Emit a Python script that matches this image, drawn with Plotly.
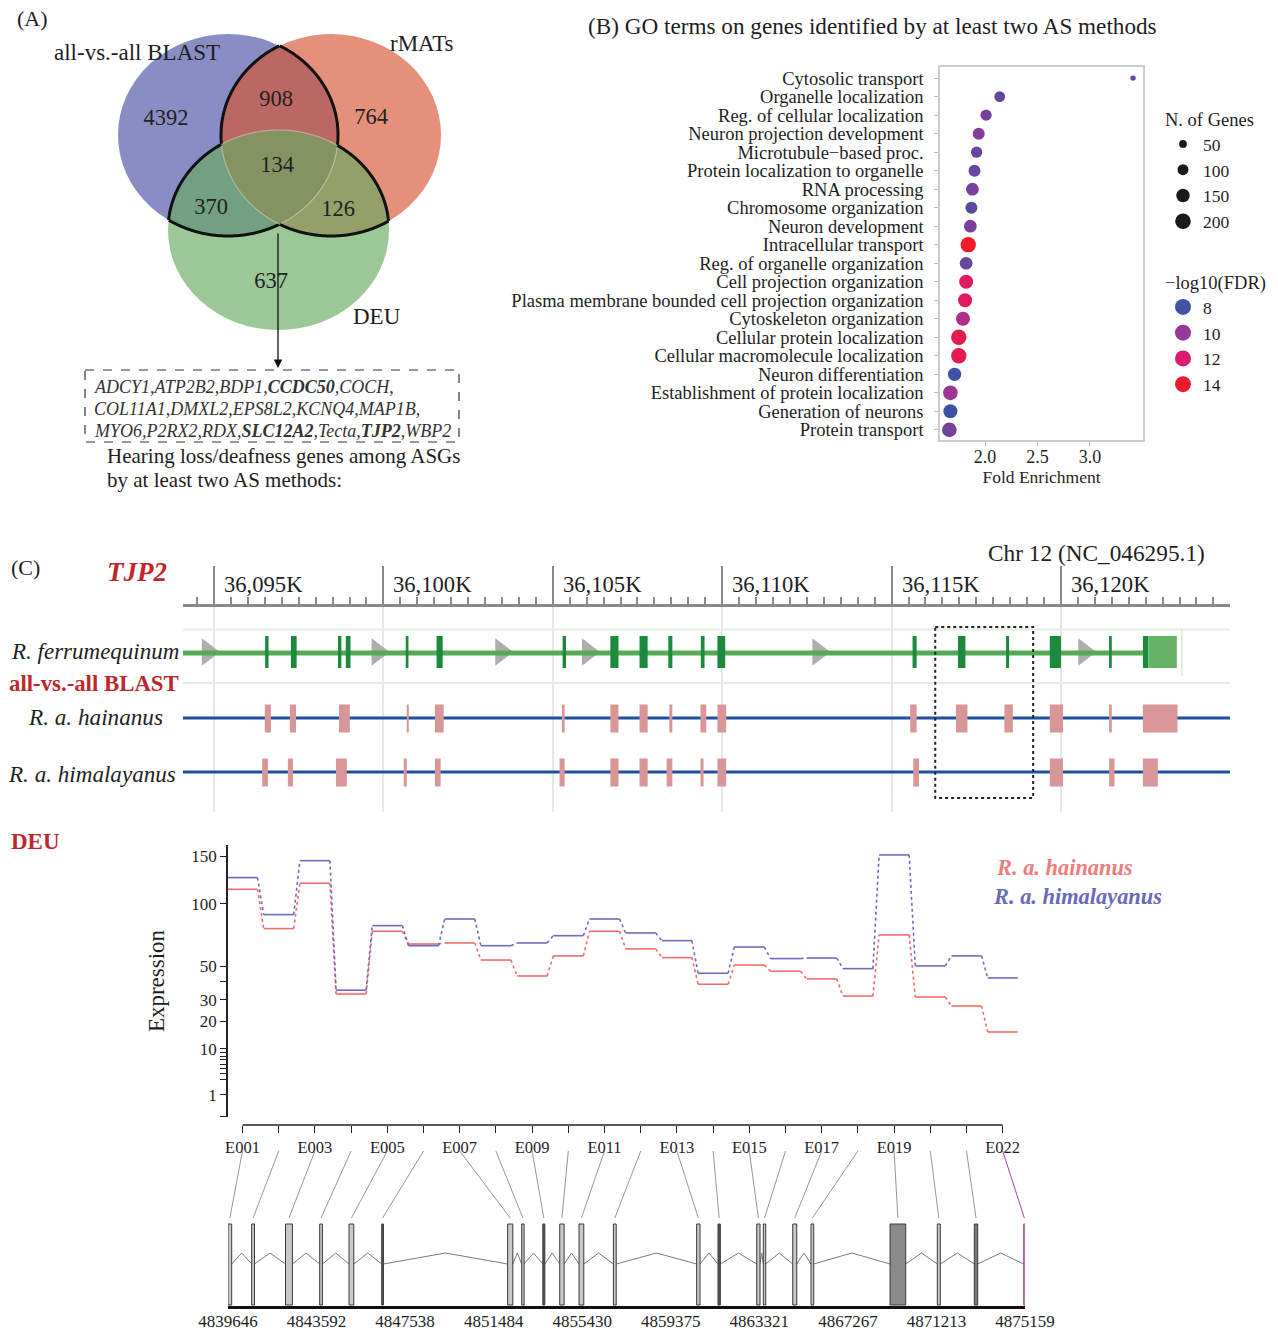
import numpy as np
import plotly.graph_objects as go
from plotly.colors import sample_colorscale

W, H = 1278, 1330
FONT = "Liberation Serif"
INK = "#1e1e1e"
RED_TXT = "#c0272d"

# ======================= DATA =======================
# (A) Venn diagram
venn_set_names = ["all-vs.-all BLAST", "rMATs", "DEU"]
venn_region_keys = ["B", "R", "D", "BR", "BD", "RD", "BRD"]
venn_region_counts = [4392, 764, 637, 908, 370, 126, 134]
hearing_genes = ["ADCY1", "ATP2B2", "BDP1", "CCDC50", "COCH",
                 "COL11A1", "DMXL2", "EPS8L2", "KCNQ4", "MAP1B",
                 "MYO6", "P2RX2", "RDX", "SLC12A2", "Tecta", "TJP2", "WBP2"]
hearing_genes_bold = ["CCDC50", "SLC12A2", "TJP2"]
genes_per_line = [5, 5, 7]

# (B) GO enrichment
go_terms = ["Cytosolic transport", "Organelle localization", "Reg. of cellular localization",
            "Neuron projection development", "Microtubule\u2212based proc.",
            "Protein localization to organelle", "RNA processing", "Chromosome organization",
            "Neuron development", "Intracellular transport", "Reg. of organelle organization",
            "Cell projection organization", "Plasma membrane bounded cell projection organization",
            "Cytoskeleton organization", "Cellular protein localization",
            "Cellular macromolecule localization", "Neuron differentiation",
            "Establishment of protein localization", "Generation of neurons", "Protein transport"]
go_fold = [3.41, 2.14, 2.01, 1.94, 1.92, 1.90, 1.88, 1.87, 1.86, 1.84,
           1.82, 1.82, 1.81, 1.79, 1.75, 1.75, 1.71, 1.67, 1.67, 1.66]
go_n_genes = [24, 95, 105, 119, 105, 119, 133, 119, 133, 194,
              133, 162, 162, 162, 194, 194, 146, 178, 162, 178]
go_neglog10_fdr = [9.0, 8.8, 9.3, 9.7, 8.9, 8.9, 9.4, 8.6, 9.4, 14.2,
                   8.9, 12.5, 12.5, 10.8, 13.0, 13.0, 8.0, 10.3, 7.9, 9.3]
size_legend_vals = [50, 100, 150, 200]
color_legend_vals = [8, 10, 12, 14]
fold_ticks = [2.0, 2.5, 3.0]

# (C) genome track (kb on Chr 12)
ruler_ticks_kb = [36095, 36100, 36105, 36110, 36115, 36120]
ref_exon_start = [36096.51, 36097.27, 36098.66, 36098.89, 36100.66, 36101.57, 36105.29, 36106.70,
                  36107.56, 36108.41, 36109.37, 36109.86, 36115.62, 36116.96, 36118.38, 36119.67,
                  36121.42, 36122.42]
ref_exon_end = [36096.61, 36097.44, 36098.76, 36099.03, 36100.74, 36101.75, 36105.39, 36106.94,
                36107.80, 36108.53, 36109.48, 36110.09, 36115.74, 36117.18, 36118.47, 36120.00,
                36121.50, 36122.58]
ref_utr_start, ref_utr_end = 36122.58, 36123.42
strand_arrows_kb = [36094.82, 36099.83, 36103.48, 36106.04, 36112.84, 36120.69]
hai_block_start = [36096.50, 36097.24, 36098.69, 36100.69, 36101.52, 36105.27, 36106.70, 36107.56,
                   36108.44, 36109.36, 36109.86, 36115.55, 36116.90, 36118.33, 36119.67, 36121.42,
                   36122.42]
hai_block_end = [36096.68, 36097.42, 36099.01, 36100.75, 36101.78, 36105.35, 36106.94, 36107.80,
                 36108.53, 36109.53, 36110.12, 36115.74, 36117.24, 36118.58, 36120.06, 36121.50,
                 36123.44]
him_block_start = [36096.42, 36097.18, 36098.60, 36100.60, 36101.52, 36105.20, 36106.70, 36107.56,
                   36108.36, 36109.36, 36109.86, 36115.64, 36119.67, 36121.42, 36122.42]
him_block_end = [36096.59, 36097.33, 36098.92, 36100.69, 36101.69, 36105.35, 36106.94, 36107.80,
                 36108.53, 36109.45, 36110.12, 36115.81, 36120.06, 36121.58, 36122.86]
highlight_kb = (36116.29, 36119.18)

# (C) DEU exon usage
exon_ids = ["E001", "E002", "E003", "E004", "E005", "E006", "E007", "E008", "E009", "E010", "E011",
            "E012", "E013", "E014", "E015", "E016", "E017", "E018", "E019", "E020", "E021", "E022"]
exon_labeled = ["E001", "E003", "E005", "E007", "E009", "E011", "E013", "E015", "E017", "E019", "E022"]
hainanus_expr = [114.3, 78.1, 120.5, 33.1, 75.9, 65.8, 66.6, 54.1, 43.6, 57.0, 75.9,
                 62.1, 55.8, 38.6, 50.7, 46.6, 41.8, 32.0, 72.9, 31.5, 26.9, 15.7]
himalayanus_expr = [126.4, 90.2, 145.0, 35.2, 80.6, 64.5, 86.3, 64.5, 66.6, 72.3, 86.3,
                    74.5, 68.4, 45.3, 63.5, 55.1, 55.5, 48.3, 151.6, 50.1, 57.0, 42.4]
expr_ticks = [0, 1, 3, 4, 5, 6, 7, 8, 9, 10, 20, 30, 40, 50, 100, 150]
expr_tick_labels = [1, 10, 20, 30, 50, 100, 150]

# (C) exon model (genomic coordinates)
model_exon_start = [4839646, 4840702, 4842208, 4843732, 4845038, 4846495, 4852105, 4852733,
                    4853674, 4854427, 4855287, 4856819, 4860527, 4861480, 4863205, 4863499,
                    4864809, 4865624, 4869145, 4871252, 4872901, 4875100]
model_exon_end = [4839811, 4840827, 4842516, 4843853, 4845252, 4846571, 4852337, 4852840,
                  4853763, 4854623, 4855500, 4856944, 4860678, 4861583, 4863352, 4863606,
                  4864987, 4865745, 4869844, 4871386, 4873052, 4875159]
model_ticks = [4839646, 4843592, 4847538, 4851484, 4855430, 4859375, 4863321, 4867267,
               4871213, 4875159]

# ======================= HELPERS =======================
def xd(a, b):
    return [a / W, b / W]

def yd(top, bottom):
    return [1 - bottom / H, 1 - top / H]

def px(p):
    return p / W

def py(p):
    return 1 - p / H

shapes, annotations, traces = [], [], []

def text(s, x, y, size, xanchor="center", color=INK, **kw):
    annotations.append(dict(text=s, x=px(x), y=py(y), xref="paper", yref="paper",
                            xanchor=xanchor, yanchor="middle", showarrow=False,
                            font=dict(family=FONT, size=size, color=color), **kw))

# ======================= (A) VENN =======================
venn_geom = {"B": (228, 135, 110, 101), "R": (331, 135, 110, 101), "D": (278.5, 230, 110.5, 100)}
venn_fill = {"B": "rgb(75,78,165)", "R": "rgb(213,85,51)", "D": "rgb(103,171,95)"}
for k in ["B", "R", "D"]:
    cx, cy, rx, ry = venn_geom[k]
    shapes.append(dict(type="circle", xref="x", yref="y", x0=cx - rx, x1=cx + rx,
                       y0=cy - ry, y1=cy + ry, fillcolor=venn_fill[k], opacity=0.65,
                       line=dict(width=0), layer="below"))

def inside(e, x, y):
    cx, cy, rx, ry = e
    return ((x - cx) / rx) ** 2 + ((y - cy) / ry) ** 2 < 1

def arc_runs(mask, xs, ys):
    i0 = int(np.argmin(mask))
    mask, xs, ys = np.roll(mask, -i0), np.roll(xs, -i0), np.roll(ys, -i0)
    runs, run = [], []
    for i in range(len(mask)):
        if mask[i]:
            run.append((xs[i], ys[i]))
        elif run:
            runs.append(run)
            run = []
    if run:
        runs.append(run)
    return runs

for k, e in venn_geom.items():
    t = np.linspace(0, 2 * np.pi, 1441)[:-1]
    xs = e[0] + e[2] * np.cos(t)
    ys = e[1] + e[3] * np.sin(t)
    cnt = sum(inside(o, xs, ys).astype(int) for kk, o in venn_geom.items() if kk != k)
    for r in arc_runs(cnt == 2, xs, ys):
        path = "M " + " L ".join(f"{a:.2f},{b:.2f}" for a, b in r)
        shapes.append(dict(type="path", xref="x", yref="y", path=path,
                           line=dict(color="rgba(255,255,255,0.35)", width=1.2)))
    for r in arc_runs(cnt == 1, xs, ys):
        path = "M " + " L ".join(f"{a:.2f},{b:.2f}" for a, b in r)
        shapes.append(dict(type="path", xref="x", yref="y", path=path,
                           line=dict(color="#111", width=3)))

venn_label_pos = {"B": (166, 119), "R": (371, 118), "D": (271, 282), "BR": (276, 100),
                  "BD": (211, 208), "RD": (338, 210), "BRD": (277, 166)}
traces.append(go.Scatter(x=[venn_label_pos[k][0] for k in venn_region_keys],
                         y=[venn_label_pos[k][1] for k in venn_region_keys],
                         text=[str(c) for c in venn_region_counts], mode="text",
                         textfont=dict(family=FONT, size=22.5, color="#222"),
                         xaxis="x", yaxis="y", hoverinfo="skip", showlegend=False))
set_label_pos = [(137, 52), (422, 43), (377, 317)]
for name, (x, y) in zip(venn_set_names, set_label_pos):
    text(name, x, y, 23)
text("(A)", 32, 19, 22)

# arrow to gene list
annotations.append(dict(x=278, y=368, ax=278, ay=232, xref="x", yref="y", axref="x", ayref="y",
                        showarrow=True, arrowhead=2, arrowsize=1.3, arrowwidth=1.3,
                        arrowcolor="#111", text=""))
shapes.append(dict(type="rect", xref="x", yref="y", x0=85, x1=459, y0=370, y1=442,
                   line=dict(color="#333", width=1.2, dash="dash")))
idx = 0
for li, n in enumerate(genes_per_line):
    parts = []
    for g in hearing_genes[idx:idx + n]:
        parts.append(f"<b>{g}</b>" if g in hearing_genes_bold else g)
    idx += n
    s = ",".join(parts) + ("," if idx < len(hearing_genes) else "")
    text(f"<i>{s}</i>", 92, 387 + 22 * li, 18.0, xanchor="left", color="#333")
text("Hearing loss/deafness genes among ASGs", 105, 456, 21, xanchor="left")
text("by at least two AS methods:", 105, 480, 21, xanchor="left")

# ======================= (B) GO =======================
CMIN, CMAX = 7.8, 14.3
def cpos(v):
    return (v - CMIN) / (CMAX - CMIN)
GO_CS = [[0, "#3953a4"], [cpos(10), "#93399a"], [cpos(12), "#dc1a6e"], [1, "#ee1c25"]]

def gene_size(n):
    return 1.1 * np.sqrt(n)

traces.append(go.Scatter(x=go_fold, y=go_terms, mode="markers", xaxis="x2", yaxis="y2",
                         marker=dict(size=[gene_size(n) for n in go_n_genes], color=go_neglog10_fdr,
                                     colorscale=GO_CS, cmin=CMIN, cmax=CMAX, line=dict(width=0),
                                     opacity=1),
                         showlegend=False, hoverinfo="skip"))
for v in size_legend_vals:
    traces.append(go.Scatter(x=[None], y=[None], mode="markers", xaxis="x2", yaxis="y2",
                             marker=dict(size=gene_size(v), color="#1a1a1a"), name=str(v),
                             legend="legend", showlegend=True))
for v in color_legend_vals:
    col = sample_colorscale(GO_CS, [cpos(v)])[0]
    traces.append(go.Scatter(x=[None], y=[None], mode="markers", xaxis="x2", yaxis="y2",
                             marker=dict(size=19, color=col), name=str(v),
                             legend="legend2", showlegend=True))
text("(B) GO terms on genes identified by at least two AS methods", 872, 26, 23.2)

# ======================= (C) GENOME TRACK =======================
X3_RANGE = [36094.085, 36124.99]
Y_REF, Y_HAI, Y_HIM = 653, 718, 772
for t in ruler_ticks_kb:
    annotations.append(dict(text=f"{t:,}K", x=t, xref="x3", y=py(584), yref="paper",
                            xanchor="left", yanchor="middle", xshift=8, showarrow=False,
                            font=dict(family=FONT, size=22.6, color=INK)))
for yy in (629.5, 683):
    shapes.append(dict(type="line", xref="x3", yref="y3", x0=X3_RANGE[0], x1=X3_RANGE[1],
                       y0=yy, y1=yy, line=dict(color="#e0ede0", width=2), layer="below"))
shapes.append(dict(type="line", xref="x3", yref="y3", x0=36123.57, x1=36123.57, y0=629, y1=676,
                   line=dict(color="#e0ede0", width=2), layer="below"))
# reference gene
shapes.append(dict(type="line", xref="x3", yref="y3", x0=X3_RANGE[0], x1=ref_exon_start[-1],
                   y0=Y_REF, y1=Y_REF, line=dict(color="#55ab55", width=5)))
for s, e in zip(ref_exon_start, ref_exon_end):
    shapes.append(dict(type="rect", xref="x3", yref="y3", x0=s, x1=e, y0=636, y1=668,
                       fillcolor="#1b8a3c", line=dict(width=0)))
shapes.append(dict(type="rect", xref="x3", yref="y3", x0=ref_utr_start, x1=ref_utr_end, y0=636,
                   y1=668, fillcolor="#66b366", line=dict(width=0)))
traces.append(go.Scatter(x=strand_arrows_kb, y=[Y_REF - 1] * len(strand_arrows_kb), mode="markers",
                         xaxis="x3", yaxis="y3",
                         marker=dict(symbol="triangle-right", size=24, color="#adadad",
                                     line=dict(width=0)),
                         showlegend=False, hoverinfo="skip"))
# BLAST hits
for yy, starts, ends in ((Y_HAI, hai_block_start, hai_block_end),
                         (Y_HIM, him_block_start, him_block_end)):
    shapes.append(dict(type="line", xref="x3", yref="y3", x0=X3_RANGE[0], x1=X3_RANGE[1],
                       y0=yy, y1=yy, line=dict(color="#1f4f9f", width=3)))
    for s, e in zip(starts, ends):
        shapes.append(dict(type="rect", xref="x3", yref="y3", x0=s, x1=e, y0=yy - 13.5,
                           y1=yy + 14.5, fillcolor="#d99696", line=dict(width=0)))
shapes.append(dict(type="rect", xref="x3", yref="y3", x0=highlight_kb[0], x1=highlight_kb[1],
                   y0=627, y1=798, line=dict(color="#222", width=2, dash="dot")))

text("(C)", 25, 568, 22)
text("<b><i>TJP2</i></b>", 137, 572, 27, color=RED_TXT)
text("Chr 12 (NC_046295.1)", 986, 553, 23.3, xanchor="left")
text("<i>R. ferrumequinum</i>", 181, 651, 23, xanchor="right")
text("<b>all-vs.-all BLAST</b>", 181, 684, 22.8, xanchor="right", color=RED_TXT)
text("<i>R. a. hainanus</i>", 165, 717, 23.2, xanchor="right")
text("<i>R. a. himalayanus</i>", 178, 774, 23.1, xanchor="right")

# ======================= (C) DEU =======================
X4_DOM = (228, 1040)
X4_RANGE = [0.5994, 23.03]
xi = np.arange(1, len(exon_ids) + 1)
HALF = 0.415
for vals, col in ((hainanus_expr, "#f26b6b"), (himalayanus_expr, "#6b6bbf")):
    sv = np.sqrt(vals)
    sx, sy, dxs, dys = [], [], [], []
    for i in range(len(xi)):
        sx += [xi[i] - HALF, xi[i] + HALF, None]
        sy += [sv[i], sv[i], None]
        if i < len(xi) - 1:
            dxs += [xi[i] + HALF, xi[i + 1] - HALF, None]
            dys += [sv[i], sv[i + 1], None]
    traces.append(go.Scatter(x=dxs, y=dys, mode="lines", xaxis="x4", yaxis="y4",
                             line=dict(color=col, width=1.6, dash="dot"),
                             showlegend=False, hoverinfo="skip"))
    traces.append(go.Scatter(x=sx, y=sy, mode="lines", xaxis="x4", yaxis="y4",
                             line=dict(color=col, width=1.6), showlegend=False, hoverinfo="skip"))
shapes.append(dict(type="line", xref="x4", yref="paper", x0=1, x1=len(exon_ids),
                   y0=py(1125), y1=py(1125), line=dict(color="#222", width=1.5)))
text("<b>DEU</b>", 9, 842, 23, xanchor="left", color=RED_TXT)
text("<b><i>R. a. hainanus</i></b>", 994, 867, 22.4, xanchor="left", color="#f07c7c")
text("<b><i>R. a. himalayanus</i></b>", 991, 896, 22.4, xanchor="left", color="#6a6ab8")

# ======================= (C) EXON MODEL =======================
X5_DOM = (228, 1025)
X5_RANGE = [model_ticks[0], model_ticks[-1]]
model_dark = {"E006": "#555555", "E009": "#555555", "E014": "#555555", "E019": "#8a8a8a",
              "E021": "#777777"}
for eid, s, e in zip(exon_ids, model_exon_start, model_exon_end):
    shapes.append(dict(type="rect", xref="x5", yref="y5", x0=s, x1=e, y0=1224, y1=1305,
                       fillcolor=model_dark.get(eid, "#c8c8c8"),
                       line=dict(color="#b040a0" if eid == "E022" else "#3a3a3a", width=1)))
ix, iy = [], []
for i in range(len(exon_ids) - 1):
    a, b = model_exon_end[i], model_exon_start[i + 1]
    ix += [a, (a + b) / 2, b, None]
    iy += [1264, 1253, 1264, None]
traces.append(go.Scatter(x=ix, y=iy, mode="lines", xaxis="x5", yaxis="y5",
                         line=dict(color="#7a7a7a", width=1), showlegend=False, hoverinfo="skip"))

def idx_to_genomic(i):
    p = X4_DOM[0] + (i - X4_RANGE[0]) / (X4_RANGE[1] - X4_RANGE[0]) * (X4_DOM[1] - X4_DOM[0])
    return X5_RANGE[0] + (p - X5_DOM[0]) / (X5_DOM[1] - X5_DOM[0]) * (X5_RANGE[1] - X5_RANGE[0])

cx_, cy_, mx_, my_ = [], [], [], []
for i, eid in enumerate(exon_ids):
    top = idx_to_genomic(i + 1)
    bot = (model_exon_start[i] + model_exon_end[i]) / 2
    if eid == "E022":
        mx_ += [top, bot]
        my_ += [1151, 1218]
    else:
        cx_ += [top, bot, None]
        cy_ += [1151, 1218, None]
traces.append(go.Scatter(x=cx_, y=cy_, mode="lines", xaxis="x5", yaxis="y5",
                         line=dict(color="#8a8a8a", width=0.9), showlegend=False, hoverinfo="skip"))
traces.append(go.Scatter(x=mx_, y=my_, mode="lines", xaxis="x5", yaxis="y5",
                         line=dict(color="#b040a0", width=1), showlegend=False, hoverinfo="skip"))

# ======================= FIGURE =======================
fig = go.Figure(traces)
axis_font = dict(family=FONT, size=17, color=INK)
fig.update_layout(
    width=W, height=H, margin=dict(l=0, r=0, t=0, b=0, autoexpand=False),
    paper_bgcolor="white", plot_bgcolor="white",
    font=dict(family=FONT, color=INK),
    shapes=shapes, annotations=annotations,
    xaxis=dict(domain=xd(0, 470), range=[0, 470], visible=False, fixedrange=True),
    yaxis=dict(domain=yd(0, 500), range=[500, 0], visible=False, fixedrange=True),
    xaxis2=dict(domain=xd(940, 1143), range=[1.571, 3.505], anchor="y2", automargin=False,
                tickvals=fold_ticks, ticktext=[f"{v:.1f}" for v in fold_ticks],
                ticks="outside", ticklen=4, tickcolor="#bbbbbb", ticklabelstandoff=-4,
                tickfont=dict(family=FONT, size=18, color=INK),
                showline=True, mirror=True, linecolor="#cccccc", linewidth=1.5,
                showgrid=False, zeroline=False,
                title=dict(text="Fold Enrichment", font=dict(family=FONT, size=17.5, color=INK),
                           standoff=0)),
    yaxis2=dict(domain=yd(67, 440), anchor="x2", type="category", categoryorder="array",
                categoryarray=go_terms, tickmode="array", tickvals=go_terms, ticktext=go_terms,
                range=[len(go_terms) - 0.45, -0.6], automargin=False,
                ticks="outside", ticklen=4, tickcolor="#bbbbbb",
                tickfont=dict(family=FONT, size=18.5, color=INK),
                ticklabelstandoff=7,
                showline=True, mirror=True, linecolor="#cccccc", linewidth=1.5,
                showgrid=False, zeroline=False),
    xaxis3=dict(domain=xd(183, 1230), range=X3_RANGE, anchor="y3", side="top", automargin=False,
                tickmode="linear", tick0=ruler_ticks_kb[0], dtick=5, ticks="outside",
                ticklen=38, tickwidth=2, tickcolor="#8a8a8a", showticklabels=False,
                showline=True, linecolor="#8a8a8a", linewidth=2.5, zeroline=False,
                showgrid=True, gridcolor="#e6e8e6", gridwidth=2,
                minor=dict(dtick=0.5, ticks="outside", ticklen=7, tickwidth=1.5,
                           tickcolor="#8a8a8a", showgrid=False)),
    yaxis3=dict(domain=yd(607, 812), range=[812, 607], visible=False, fixedrange=True),
    xaxis4=dict(domain=xd(*X4_DOM), range=X4_RANGE, anchor="free", position=py(1125),
                automargin=False,
                tickvals=list(xi), ticktext=[e if e in exon_labeled else "" for e in exon_ids],
                ticks="outside", ticklen=7, tickwidth=1.2, tickcolor="#222",
                tickfont=dict(family=FONT, size=16.5, color=INK),
                showline=False, showgrid=False, zeroline=False),
    yaxis4=dict(domain=yd(845, 1117), range=[-0.047, 12.78], anchor="x4", automargin=False,
                tickvals=list(np.sqrt(expr_ticks)),
                ticktext=[str(v) if v in expr_tick_labels else "" for v in expr_ticks],
                ticks="outside", ticklen=6, tickwidth=1.2, tickcolor="#222", tickfont=axis_font,
                showline=True, linecolor="#222", linewidth=1.5, showgrid=False, zeroline=False,
                title=dict(text="Expression", font=dict(family=FONT, size=23, color=INK),
                           standoff=20)),
    xaxis5=dict(domain=xd(*X5_DOM), range=X5_RANGE, anchor="y5", automargin=False,
                tickvals=model_ticks, ticktext=[str(v) for v in model_ticks], ticks="",
                ticklabelstandoff=-2,
                tickfont=dict(family=FONT, size=17, color=INK),
                showline=True, linecolor="#111", linewidth=2.5, showgrid=False, zeroline=False),
    yaxis5=dict(domain=yd(1150, 1306), range=[1306, 1150], visible=False, fixedrange=True),
    legend=dict(title=dict(text="N. of Genes", font=dict(family=FONT, size=18.5, color=INK)),
                x=px(1163), y=py(102), xanchor="left", yanchor="top", itemsizing="trace",
                font=dict(family=FONT, size=17.5, color=INK), bgcolor="rgba(0,0,0,0)",
                tracegroupgap=0),
    legend2=dict(title=dict(text="\u2212log10(FDR)", font=dict(family=FONT, size=18.5, color=INK)),
                 x=px(1163), y=py(265), xanchor="left", yanchor="top", itemsizing="trace",
                 font=dict(family=FONT, size=17.5, color=INK), bgcolor="rgba(0,0,0,0)",
                 tracegroupgap=0),
)
fig.write_html("out.html", config={"displayModeBar": False},
               post_script="document.body.style.margin='0';")
